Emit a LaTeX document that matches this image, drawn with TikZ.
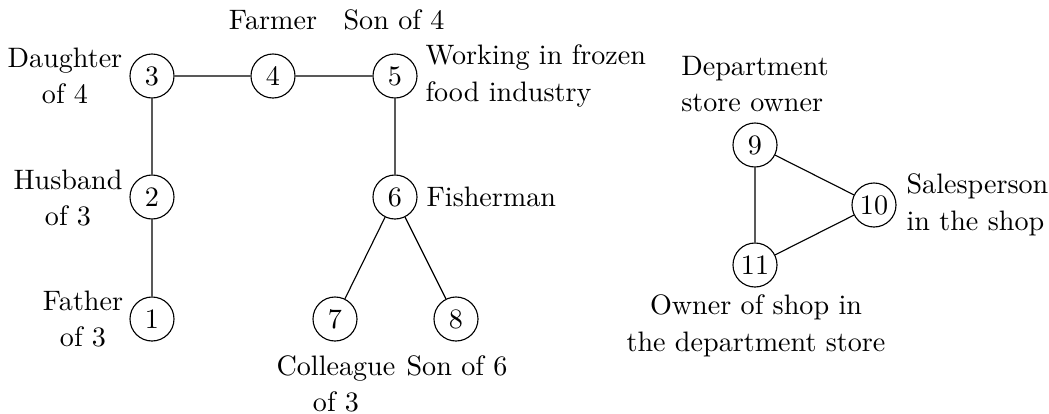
\documentclass[tikz,border=0pt]{standalone}
\begin{document}
\begin{tikzpicture}[x=0.0125cm,y=-0.0125cm,
  vertex/.style={circle,draw,minimum size=0.55cm,inner sep=1pt},
  lbl/.style={font=\fontsize{10}{13}\selectfont,inner sep=0pt},
  edge/.style={draw}]
\useasboundingbox (0,0) rectangle (1049,413);
% vertices
\node[vertex] (n1) at (152,319) {1};
\node[vertex] (n2) at (152,197) {2};
\node[vertex] (n3) at (152,76) {3};
\node[vertex] (n4) at (273,76) {4};
\node[vertex] (n5) at (395,76) {5};
\node[vertex] (n6) at (395,197) {6};
\node[vertex] (n7) at (335,319) {7};
\node[vertex] (n8) at (456,319) {8};
\node[vertex] (n9) at (755,145) {9};
\node[vertex] (n10) at (874,205) {10};
\node[vertex] (n11) at (755,265) {11};
% edges
\path[edge] (n1) -- (n2) -- (n3) -- (n4) -- (n5) -- (n6) -- (n7);
\path[edge] (n6) -- (n8);
\path[edge] (n9) -- (n10) -- (n11) -- (n9);
% labels
\node[lbl,align=center] (l3) at (65,76) {Daughter\\of 4};
\node[lbl] (l4) at (273,20) {Farmer};
\node[lbl] (l5a) at (394,20) {Son of 4};
\node[lbl,align=left,anchor=west] (l5b) at (425,76) {Working in frozen\\food industry};
\node[lbl,align=center] (l2) at (68,198) {Husband\\of 3};
\node[lbl,align=center] (l1) at (83,319) {Father\\of 3};
\node[lbl,anchor=west] (l6) at (426,197) {Fisherman};
\node[lbl,align=center] (l7) at (336,384) {Colleague\\of 3};
\node[lbl] (l8) at (457,366) {Son of 6};
\node[lbl,align=left] (l9) at (755,84) {Department\\store owner};
\node[lbl,align=left,anchor=west] (l10) at (906,205) {Salesperson\\in the shop};
\node[lbl,align=center] (l11) at (756,326) {Owner of shop in\\the department store};
\end{tikzpicture}
\end{document}
